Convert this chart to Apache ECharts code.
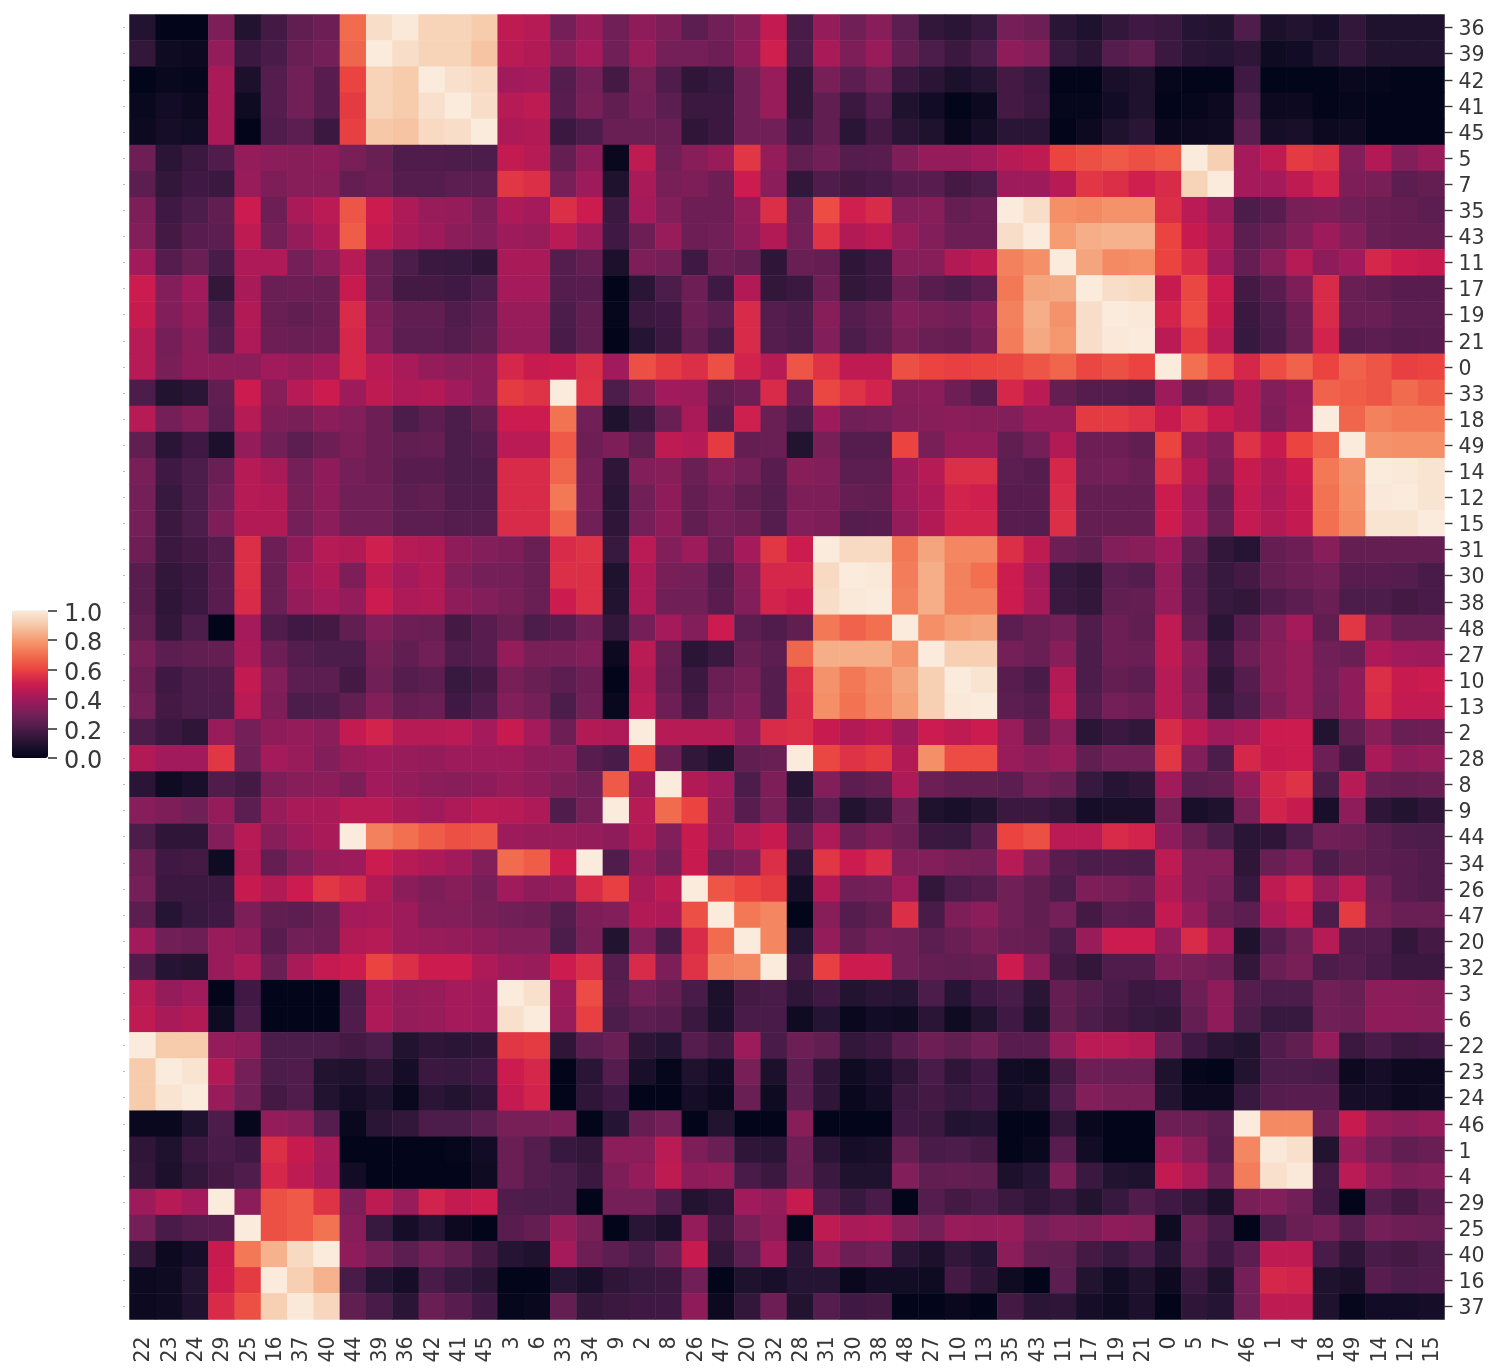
<!DOCTYPE html>
<html><head><meta charset="utf-8">
<script src="https://cdn.jsdelivr.net/npm/echarts@6/dist/echarts.min.js"></script>
<style>html,body{margin:0;padding:0;background:#fff}#c{width:1494px;height:1370px}</style>
</head><body><div id="c"></div>
<script>
const colLabels=[22,23,24,29,25,16,37,40,44,39,36,42,41,45,3,6,33,34,9,2,8,26,47,20,32,28,31,30,38,48,27,10,13,35,43,11,17,19,21,0,5,7,46,1,4,18,49,14,12,15];
const rowLabels=[36,39,42,41,45,5,7,35,43,11,17,19,21,0,33,18,49,14,12,15,31,30,38,48,27,10,13,2,28,8,9,44,34,26,47,20,32,3,6,22,23,24,46,1,4,29,25,40,16,37];
const rocket=['#03051a','#221331','#4c1c4a','#751f58','#a11a5b','#cb1b4f','#ea4340','#f26f4f','#f59c72','#f6c8a8','#faebdd'];
// values in percent, one list per row, in column order
const r36=[10,0,0,32,10,18,25,28,69,96,99,93,93,91,47,45,30,38,29,36,32,24,29,34,48,19,37,29,34,24,14,12,15,30,28,12,9,14,17,16,11,10,21,8,10,7,14,9,9,9];
const r39=[14,4,3,37,16,19,27,30,68,100,96,93,93,89,46,44,34,41,29,38,30,30,28,36,51,20,42,32,38,26,20,16,20,36,33,15,12,22,25,16,12,11,13,4,5,10,14,10,10,10];
const r42=[0,2,1,42,8,22,29,23,60,93,91,100,97,95,40,41,22,30,18,31,21,13,15,29,38,14,31,24,29,16,12,8,11,18,15,0,0,7,9,1,0,0,17,0,0,0,2,1,0,0];
const r41=[2,5,3,42,4,22,29,23,58,93,91,97,100,96,45,47,23,31,25,30,24,16,16,29,38,14,25,16,22,9,5,0,3,18,16,1,1,5,9,0,1,3,20,3,3,0,1,0,0,0];
const r45=[3,6,5,42,0,21,24,16,59,90,89,95,96,100,43,44,16,20,27,27,27,13,16,29,29,17,25,12,18,12,9,2,6,12,12,0,3,9,12,2,3,4,24,6,7,3,4,0,0,0];
const r5=[28,12,16,21,37,35,34,36,31,27,21,21,20,20,48,45,26,36,2,47,29,34,38,57,37,25,29,22,23,32,37,37,40,45,47,60,63,65,63,65,100,92,41,47,58,56,33,44,33,38];
const r7=[24,14,17,16,38,32,34,34,26,28,22,22,24,24,57,55,31,39,9,42,31,32,28,50,35,14,21,18,19,23,23,18,20,39,39,45,57,55,51,54,93,100,41,41,47,52,32,31,24,26];
const r35=[32,17,20,25,50,28,42,46,64,50,43,38,37,32,43,41,55,50,16,41,33,28,28,37,55,29,62,51,54,33,34,26,28,100,96,77,76,78,78,55,46,38,20,23,31,32,29,27,26,24];
const r43=[33,18,23,24,47,30,37,43,66,48,42,39,35,33,39,38,46,39,17,28,38,28,29,36,44,30,56,44,47,38,33,28,28,96,100,80,84,85,85,60,49,42,24,27,33,39,33,27,26,26];
const r11=[40,22,27,19,43,43,30,35,45,27,20,16,15,13,42,42,22,26,8,32,30,17,28,26,13,27,26,13,16,34,34,44,47,74,77,100,82,76,77,60,54,40,26,34,45,36,40,53,50,49];
const r17=[50,33,40,14,42,27,28,27,49,27,18,18,17,20,41,41,22,23,0,12,20,28,17,44,14,16,28,14,16,28,23,20,24,72,82,83,100,96,95,49,61,50,18,23,32,54,27,25,23,23];
const r19=[49,33,38,20,44,27,25,27,54,32,25,25,21,24,38,38,20,25,1,16,17,28,24,54,22,20,34,22,25,33,31,29,33,74,84,78,96,100,99,52,62,49,16,20,28,54,27,27,24,24];
const r21=[45,30,35,22,43,28,27,28,53,33,24,24,22,25,37,37,19,25,0,11,16,26,19,54,22,20,33,20,24,31,27,26,31,73,83,79,96,99,100,46,58,46,15,19,27,52,23,24,22,23];
const r0=[45,31,36,36,35,40,38,41,53,46,42,37,35,36,53,49,50,55,40,63,58,55,63,52,45,64,56,47,47,63,60,59,60,61,64,68,61,63,60,100,70,62,53,62,67,60,67,64,59,60];
const r33=[20,10,12,25,50,34,45,50,39,47,43,44,40,35,58,56,100,56,20,30,40,39,25,28,54,28,61,56,52,34,35,28,23,53,46,26,22,22,21,39,26,30,44,33,37,67,66,64,69,66];
const r18=[45,30,34,24,45,32,31,35,33,28,20,24,20,25,50,50,71,29,9,16,27,42,22,51,27,20,39,29,30,33,34,35,34,33,38,38,58,58,56,49,55,49,44,32,38,100,68,74,72,72];
const r49=[25,12,17,8,37,29,24,28,32,28,25,26,20,22,46,46,65,28,32,25,47,45,58,26,27,10,31,22,22,60,31,37,37,25,30,44,28,28,25,60,38,33,56,49,60,67,100,78,77,77];
const r14=[31,17,20,27,45,42,30,36,30,28,23,23,20,20,54,54,68,30,13,33,34,27,33,30,23,34,33,24,24,39,45,55,55,24,22,53,29,30,27,56,44,31,49,44,50,72,78,100,99,98];
const r12=[30,15,20,29,45,44,31,36,29,29,24,25,21,21,54,54,72,31,12,29,36,26,30,25,22,32,32,26,25,39,43,52,51,23,23,54,26,26,26,50,40,26,48,43,48,71,77,99,100,98];
const r15=[30,16,20,32,44,44,30,35,29,29,24,24,22,22,54,54,67,29,13,30,36,25,30,28,22,33,32,22,23,37,44,52,52,23,22,55,26,26,26,50,41,27,48,44,48,70,76,98,98,100];
const r31=[28,16,18,22,55,28,36,45,44,51,45,44,36,33,32,27,54,56,15,46,33,39,28,41,57,50,100,95,95,72,82,75,75,55,47,28,25,33,34,40,25,14,11,26,28,34,26,26,26,26];
const r30=[23,14,16,23,55,27,39,43,32,47,41,44,33,30,30,27,55,55,9,43,31,30,22,34,53,53,95,100,99,73,84,74,70,50,41,15,13,24,22,37,22,15,18,26,28,30,23,23,22,19];
const r38=[23,13,16,23,54,27,37,41,37,50,43,44,36,33,31,27,50,55,10,43,29,29,23,33,52,50,96,99,100,74,84,74,74,50,42,16,14,25,26,37,23,15,14,21,24,27,20,20,18,19];
const r48=[25,14,20,0,41,21,17,18,25,33,28,27,18,23,27,20,23,29,14,30,41,33,50,24,21,25,72,67,70,100,77,81,82,24,27,30,21,28,25,47,26,12,23,33,41,25,57,34,27,27];
const r27=[31,24,25,26,42,28,22,20,20,31,25,29,21,23,37,31,31,33,3,46,27,12,16,27,24,68,84,84,84,78,100,92,92,30,27,34,20,28,27,47,35,16,28,34,38,29,27,43,40,39];
const r10=[28,17,20,21,48,33,24,24,18,29,22,24,15,18,31,27,24,28,0,44,26,16,27,31,22,55,78,72,76,82,92,100,98,23,19,44,20,26,24,45,33,13,22,34,38,30,36,55,49,50];
const r13=[30,18,20,20,46,32,20,21,25,33,26,27,17,21,33,30,20,29,2,46,28,18,29,33,22,54,77,71,75,81,92,99,100,24,22,46,22,30,28,45,35,15,20,32,38,29,36,54,48,48];
const r2=[20,16,13,38,30,36,37,35,48,52,45,45,46,41,49,41,28,44,43,100,45,45,45,37,54,55,49,44,47,39,50,47,50,38,26,35,12,16,14,54,47,39,42,50,50,10,25,34,27,28];
const r28=[44,40,40,57,29,41,38,33,38,40,38,37,39,39,39,36,35,23,19,60,27,14,9,25,27,100,61,56,58,44,77,62,62,38,35,38,25,29,29,57,33,20,53,49,50,28,18,42,36,37];
const r8=[12,4,7,21,18,32,34,35,32,40,37,35,34,36,38,36,32,29,65,39,100,44,40,20,32,11,33,24,26,43,28,25,25,24,30,27,15,11,13,40,24,25,37,53,56,20,45,27,26,27];
const r9=[34,32,29,37,24,38,42,42,46,46,42,40,43,46,45,43,21,31,100,45,69,60,38,23,31,15,24,10,14,29,9,7,10,16,16,14,6,7,7,31,7,9,31,52,49,7,36,13,10,13];
const r44=[20,13,13,33,45,34,39,42,100,74,70,66,63,64,39,38,38,37,36,44,33,49,37,45,49,25,43,28,32,28,16,15,23,60,63,46,46,54,52,36,27,20,12,13,20,29,28,24,21,20];
const r34=[28,17,18,4,44,26,33,38,39,50,45,43,40,33,69,66,50,100,21,37,30,49,29,33,55,13,57,50,54,33,33,31,30,45,33,23,20,21,20,47,33,33,13,27,32,20,25,24,23,21];
const r26=[30,16,16,16,49,44,50,57,54,44,35,32,34,30,40,36,37,54,59,42,47,100,64,60,58,6,44,29,30,39,14,20,22,29,25,20,32,31,28,44,33,30,15,47,52,38,47,29,23,21];
const r47=[24,11,15,17,32,25,24,27,41,42,39,33,33,31,29,28,22,32,33,44,43,63,100,72,75,0,34,22,25,55,19,32,35,29,25,30,18,24,23,48,37,27,24,43,48,20,58,31,27,27];
const r20=[40,29,28,38,36,23,29,28,44,45,39,38,37,36,33,33,20,31,10,33,19,54,69,100,75,11,37,26,30,29,24,27,31,27,26,20,38,50,50,37,54,42,9,22,29,45,21,21,14,18];
const r32=[21,11,10,38,43,27,42,48,50,60,55,50,50,43,39,38,50,55,22,54,32,56,74,76,100,18,59,50,50,29,26,25,26,50,36,18,14,21,21,32,31,28,14,27,31,20,22,19,16,16];
const r3=[45,37,40,0,17,0,0,0,20,42,37,38,41,40,100,97,39,62,23,30,26,19,8,18,19,13,17,10,12,11,20,11,17,19,12,26,22,19,16,17,28,36,22,20,20,29,27,35,35,34];
const r6=[47,42,44,4,19,0,0,0,21,43,37,38,41,40,97,100,38,59,20,24,23,16,8,19,19,4,11,2,5,4,12,4,10,17,9,25,20,18,15,14,26,36,20,15,15,29,28,36,36,35];
const r22=[100,91,91,37,36,20,20,20,18,20,10,13,12,13,57,58,13,24,27,13,11,22,18,39,19,28,25,14,16,23,28,25,29,23,23,37,46,46,44,27,17,12,10,21,25,37,16,19,16,17];
const r23=[91,100,98,44,30,20,21,10,9,13,6,16,15,17,50,53,0,12,22,7,1,9,5,31,8,24,13,4,7,13,19,13,17,5,4,18,28,27,27,9,1,0,10,20,20,19,3,6,3,3];
const r24=[91,98,100,38,29,18,21,10,6,9,2,12,10,13,48,52,0,13,17,0,0,6,3,27,4,24,13,2,5,16,18,15,17,5,7,21,33,31,31,10,3,3,15,22,23,23,6,6,3,4];
const r46=[2,2,9,20,1,37,35,22,2,12,14,20,20,24,31,31,32,0,11,26,30,0,10,0,0,34,0,0,0,17,16,10,11,0,0,14,2,0,0,28,27,24,100,76,76,28,49,37,35,37];
const r1=[13,9,16,19,17,55,49,42,0,0,0,0,1,5,27,22,15,14,35,35,46,32,27,13,12,28,12,6,7,26,19,20,18,0,2,23,5,0,0,41,34,23,75,99,97,10,38,30,25,27];
const r4=[14,8,14,18,21,53,47,41,5,0,0,0,0,4,27,22,20,16,32,37,47,36,37,19,16,27,16,9,9,33,25,26,25,8,11,32,16,10,9,48,42,28,73,97,99,18,46,37,32,33];
const r29=[39,45,41,100,35,63,65,56,32,47,38,52,48,50,21,20,20,0,30,30,21,10,13,40,37,49,21,15,19,0,22,18,20,16,13,16,10,15,21,17,14,8,31,33,29,17,0,22,18,23];
const r25=[30,19,22,23,100,63,65,71,34,15,6,11,3,0,23,26,37,31,0,12,8,37,18,31,36,1,47,42,43,34,30,38,37,38,30,33,32,36,34,4,26,19,0,20,27,30,22,30,28,27];
const r40=[14,3,6,49,72,85,95,100,36,30,24,29,25,18,11,9,41,28,24,20,27,49,14,24,41,12,37,28,30,12,8,14,11,35,26,25,18,15,19,11,24,17,24,47,47,19,13,19,18,20];
const r16=[3,4,10,50,58,100,92,85,19,11,6,19,15,12,0,0,11,7,13,15,16,29,0,9,7,11,11,2,5,5,4,18,13,4,0,24,10,5,9,3,16,9,30,53,52,9,7,23,20,21];
const r37=[3,4,9,54,63,92,99,94,25,19,12,27,23,17,1,2,26,14,16,17,17,36,3,14,28,10,22,17,18,0,0,2,0,18,12,13,6,4,8,0,13,11,29,47,47,9,1,5,5,6];
const rows=[r36,r39,r42,r41,r45,r5,r7,r35,r43,r11,r17,r19,r21,r0,r33,r18,r49,r14,r12,r15,r31,r30,r38,r48,r27,r10,r13,r2,r28,r8,r9,r44,r34,r26,r47,r20,r32,r3,r6,r22,r23,r24,r46,r1,r4,r29,r25,r40,r16,r37];

rows.forEach((r,i)=>{if(r.length!==50)throw new Error('row '+rowLabels[i]+' has '+r.length)});
const cells=[];
rows.forEach((r,y)=>r.forEach((v,x)=>cells.push([x,y,v/100])));

const FONT='"DejaVu Sans"', INK='#383838';
const chart=echarts.init(document.getElementById('c'),null,{renderer:'canvas'});
chart.setOption({
  animation:false,
  backgroundColor:'#fff',
  grid:[
    {left:129.5,top:14.5,width:1315,height:1305,containLabel:false},
    {left:12,top:610.5,width:36,height:147.5,containLabel:false}
  ],
  xAxis:[
    {type:'category',gridIndex:0,data:colLabels.map(String),position:'bottom',
     axisLine:{show:false},axisTick:{show:false},splitLine:{show:false},
     axisLabel:{interval:0,rotate:90,fontSize:20.5,fontFamily:FONT,color:INK,margin:17,verticalAlign:'top',lineHeight:3}},
    {type:'value',gridIndex:1,show:false,min:0,max:1}
  ],
  yAxis:[
    {type:'category',gridIndex:0,data:rowLabels.map(String),inverse:true,position:'right',
     axisLine:{show:false,onZero:false},splitLine:{show:false},
     axisTick:{show:true,alignWithLabel:true,length:8,lineStyle:{color:INK,width:1.4}},
     axisLabel:{interval:0,fontSize:20.5,fontFamily:FONT,color:INK,margin:14,verticalAlign:'top',lineHeight:5}},
    {type:'value',gridIndex:1,min:0,max:1,interval:0.2,position:'right',
     axisLine:{show:false,onZero:false},splitLine:{show:false},
     axisTick:{show:true,length:9,lineStyle:{color:INK,width:1.6}},
     axisLabel:{fontSize:24,fontFamily:FONT,color:INK,margin:16,verticalAlign:'top',lineHeight:8,formatter:v=>v.toFixed(1)}},
    {type:'category',gridIndex:0,data:rowLabels.map(String),inverse:true,position:'left',offset:5,
     axisLine:{show:false,onZero:false},splitLine:{show:false},
     axisTick:{show:true,alignWithLabel:true,length:1,lineStyle:{color:'#777',width:1}},
     axisLabel:{show:false}}
  ],
  visualMap:{type:'continuous',seriesIndex:0,dimension:2,min:0,max:1,calculable:false,
    left:12,top:610.5,itemWidth:36,itemHeight:147.5,padding:0,text:null,showLabel:false,
    inRange:{color:rocket}},
  series:[{type:'heatmap',xAxisIndex:0,yAxisIndex:0,data:cells,progressive:0,
    itemStyle:{borderWidth:0},emphasis:{disabled:true},silent:true}]
});
</script></body></html>
